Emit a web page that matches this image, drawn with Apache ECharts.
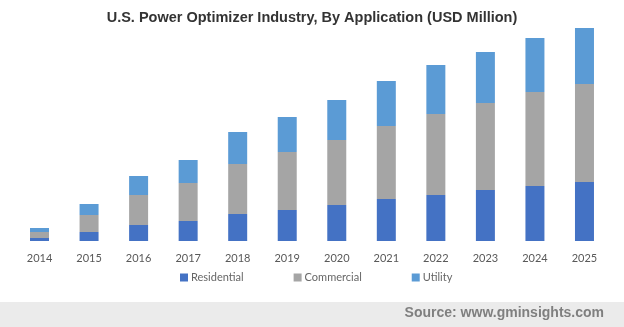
<!DOCTYPE html>
<html>
<head>
<meta charset="utf-8">
<script src="https://cdn.jsdelivr.net/npm/echarts@6/dist/echarts.min.js"></script>
<style>
html,body{margin:0;padding:0;background:#fff;}
#c{width:624px;height:327px;}
</style>
</head>
<body>
<div id="c"></div>
<script>
var years = ['2014','2015','2016','2017','2018','2019','2020','2021','2022','2023','2024','2025'];
var residential = [3, 9, 16, 20, 27, 31, 36, 42, 46, 51, 55, 59];
var commercial = [6, 17, 30, 38, 50, 58, 65, 73, 81, 87, 94, 98];
var utility = [4, 11, 19, 23, 32, 35, 40, 45, 49, 51, 54, 56];

var chart = echarts.init(document.getElementById('c'), null, {renderer: 'canvas'});
var lblFont = 'Lato, "Open Sans", sans-serif';
chart.setOption({
  animation: false,
  backgroundColor: '#ffffff',
  title: {
    text: 'U.S. Power Optimizer Industry, By Application (USD Million)',
    left: 'center',
    top: 5,
    textStyle: {fontFamily: '"Liberation Sans", Arial, sans-serif', fontSize: 14.5, fontWeight: 'bold', color: '#333333'}
  },
  legend: {
    left: 180,
    top: 272,
    padding: 0,
    itemWidth: 8,
    itemHeight: 8,
    itemGap: 50,
    icon: 'rect',
    textStyle: {fontFamily: lblFont, fontSize: 11, color: '#666666', padding: [0,0,0,-2]},
    data: ['Residential','Commercial','Utility']
  },
  grid: {left: 14.75, right: 14.75, top: 28, bottom: 86, containLabel: false},
  xAxis: {
    type: 'category',
    data: years,
    axisLine: {show: false},
    axisTick: {show: false},
    axisLabel: {fontFamily: lblFont, fontSize: 11, color: '#595959', margin: 12}
  },
  yAxis: {
    type: 'value',
    min: 0,
    max: 213,
    show: false,
    splitLine: {show: false}
  },
  graphic: [
    {type: 'rect', left: 0, top: 302, shape: {width: 624, height: 25}, style: {fill: '#ebebeb'}, z: -1},
    {type: 'text', right: 20, top: 306, style: {text: 'Source: www.gminsights.com', font: 'bold 14px "Liberation Sans", Arial, sans-serif', fill: '#7f7f7f'}}
  ],
  series: [
    {name: 'Residential', type: 'bar', stack: 'a', data: residential, barWidth: 19, itemStyle: {color: '#4472c4'}},
    {name: 'Commercial', type: 'bar', stack: 'a', data: commercial, barWidth: 19, itemStyle: {color: '#a5a5a5'}},
    {name: 'Utility', type: 'bar', stack: 'a', data: utility, barWidth: 19, itemStyle: {color: '#5b9bd5'}}
  ]
});
</script>
</body>
</html>
